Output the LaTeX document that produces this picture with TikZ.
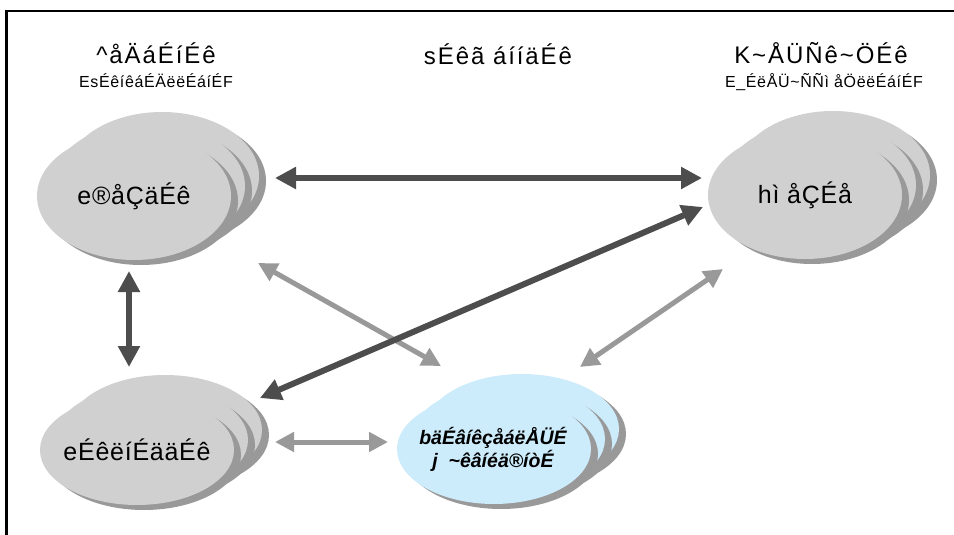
\documentclass[tikz,border=0pt]{standalone}
\usepackage{fontspec}
\setmainfont{Liberation Sans}
\newfontfamily\ttlfont[LetterSpace=8]{Liberation Sans}
\newfontfamily\subfont[LetterSpace=4]{Liberation Sans}
\newfontfamily\cldfont[LetterSpace=3]{Liberation Sans}
\usetikzlibrary{arrows.meta}
\definecolor{cloudgrey}{HTML}{D0D0D0}
\definecolor{cloudshade}{HTML}{999999}
\definecolor{cloudblue}{HTML}{CCEBFB}
\definecolor{darkarrow}{HTML}{4D4D4D}
\definecolor{lightarrow}{HTML}{999999}
\newcommand\cloudstack[6]{%
  \foreach \k in {2,1,0}{%
    \fill[cloudshade] ({#2+14*\k+7},{#3-10*\k+5}) ellipse [x radius=97pt, y radius=#4pt];
    \fill[#5] ({#2+14*\k},{#3-10*\k}) ellipse [x radius=97pt, y radius=#4pt];
  }%
  \node[cloudtext] (#1) at (#2,#3) {#6};%
}
\begin{document}
\begin{tikzpicture}[x=1pt,y=-1pt,
  cloudtext/.style={font=\cldfont\fontsize{25}{28}\selectfont, text=black},
  titletext/.style={font=\ttlfont\fontsize{24}{26}\selectfont},
  subtext/.style={font=\subfont\fontsize{16}{18}\selectfont},
  darr/.style={draw=darkarrow, line width=6pt,
    {Triangle[length=21pt,width=21pt]}-{Triangle[length=21pt,width=21pt]}},
  larr/.style={draw=lightarrow, line width=5pt,
    {Triangle[length=19pt,width=19pt]}-{Triangle[length=19pt,width=19pt]}}]
\useasboundingbox (0,0) rectangle (954,535);
% frame
\draw[line width=2.5pt, line join=miter] (6.5,536) -- (6.5,11) -- (956,11);
% headings
\node[titletext] (h1) at (156,53) {\textasciicircum åÄáÉíÉê};
\node[subtext] (s1) at (156,81) {EsÉêíêáÉÄëëÉáíÉF};
\node[titletext] (h2) at (498,54) {sÉêã áííäÉê};
\node[titletext] (h3) at (821,53) {K\textasciitilde ÅÜÑê\textasciitilde ÖÉê};
\node[subtext] (s3) at (824,82) {E\_ÉëÅÜ\textasciitilde ÑÑì åÖëëÉáíÉF};
% clouds
\cloudstack{n1}{134}{196}{64}{cloudgrey}{e®åÇäÉê}
\cloudstack{n2}{805}{195}{64}{cloudgrey}{hì åÇÉå}
\cloudstack{n3}{137}{450}{55}{cloudgrey}{eÉêëíÉääÉê}
\cloudstack{n4}{494}{449}{55}{cloudblue}{}
\node[font=\bfseries\itshape\fontsize{19.5}{23}\selectfont, align=center] (n4t) at (493,449)
  {bäÉâíêçåáëÅÜÉ\\j \ \textasciitilde êâíéä®íòÉ};
% arrow end points
\coordinate (a1s) at (275,178); \coordinate (a1e) at (702,178);
\coordinate (a2s) at (129,271); \coordinate (a2e) at (129,367);
\coordinate (a3s) at (260,398); \coordinate (a3e) at (703,207);
\coordinate (a4s) at (258,263); \coordinate (a4e) at (441,366);
\coordinate (a5s) at (723,269); \coordinate (a5e) at (580,367);
\coordinate (a6s) at (275,442); \coordinate (a6e) at (388,442);
% light arrows
\draw[larr] (a4s) -- (a4e);
\draw[larr] (a5s) -- (a5e);
\draw[larr] (a6s) -- (a6e);
% dark arrows
\draw[darr] (a1s) -- (a1e);
\draw[darr] (a2s) -- (a2e);
\draw[darr] (a3s) -- (a3e);
\end{tikzpicture}
\end{document}
